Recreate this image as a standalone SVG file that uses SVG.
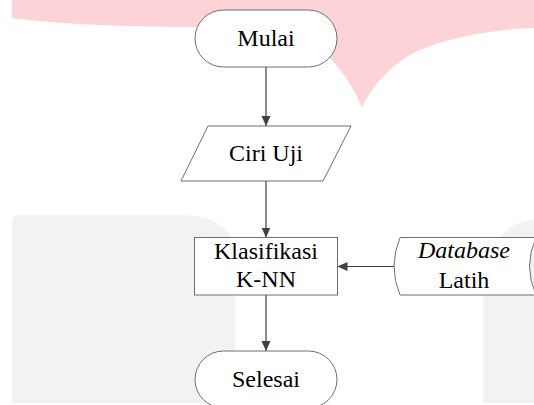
<svg xmlns="http://www.w3.org/2000/svg" width="534" height="405" viewBox="0 0 534 405">
<style>
.node{fill:#ffffff;stroke:#6e6e6e;stroke-width:1}
.lbl{font-family:'Liberation Serif','Times New Roman','DejaVu Serif',serif;font-size:24px;fill:#000;text-anchor:middle}
.edge{stroke:#404040;stroke-width:1.2;fill:none;marker-end:url(#arr)}
</style>
<defs>
<marker id="arr" markerUnits="userSpaceOnUse" markerWidth="10" markerHeight="10" refX="10" refY="5" orient="auto">
<path d="M0,0.5 L10,5 L0,9.5 Z" fill="#404040"/>
</marker>
</defs>
<g id="watermark">
<path d="M12,0 L534,0 L534,28 C500,29 450,36 415,52 C390,66 372,86 362,107 C350,80 330,50 300,36 C270,29 230,27 200,27 C120,27 60,24 12,18 Z" fill="#fcd3d6"/>
<path d="M12,222 Q12,215 19,215 L180,215 C215,215 235,230 235,255 L235,403 L12,403 Z" fill="#f2f2f2"/>
<path d="M534,220 C515,222 505,228 495,245 C486,260 483,275 483,300 L483,403 L534,403 Z" fill="#f2f2f2"/>
</g>
<g id="connectors">
<line class="edge" x1="266" y1="67" x2="266" y2="126"/>
<line class="edge" x1="266" y1="181" x2="266" y2="237.5"/>
<line class="edge" x1="266" y1="295" x2="266" y2="351"/>
<line class="edge" x1="394" y1="266.5" x2="337.5" y2="266.5"/>
</g>
<g id="mulai">
<rect class="node" x="195" y="10" width="142" height="57" rx="28.5"/>
<text class="lbl" x="266" y="46" font-family="Liberation Serif, serif">Mulai</text>
</g>
<g id="ciri-uji">
<path class="node" d="M208,126 L351,126 L323,181 L181,181 Z"/>
<text class="lbl" x="266" y="161" font-family="Liberation Serif, serif">Ciri Uji</text>
</g>
<g id="klasifikasi">
<rect class="node" x="194.5" y="237.5" width="143" height="57.5"/>
<text class="lbl" x="266" y="259" font-family="Liberation Serif, serif">Klasifikasi</text>
<text class="lbl" x="266" y="286.5" font-family="Liberation Serif, serif">K-NN</text>
</g>
<g id="database">
<path class="node" d="M400,237.5 L536,237.5 Q523,266.25 536,295 L400,295 Q388,266.25 400,237.5 Z"/>
<text class="lbl" x="464" y="258" font-style="italic" font-family="Liberation Serif, serif">Database</text>
<text class="lbl" x="464" y="287.5" font-family="Liberation Serif, serif">Latih</text>
</g>
<g id="selesai">
<rect class="node" x="195" y="351" width="142" height="57" rx="28.5"/>
<text class="lbl" x="266" y="387" font-family="Liberation Serif, serif">Selesai</text>
</g>
</svg>
